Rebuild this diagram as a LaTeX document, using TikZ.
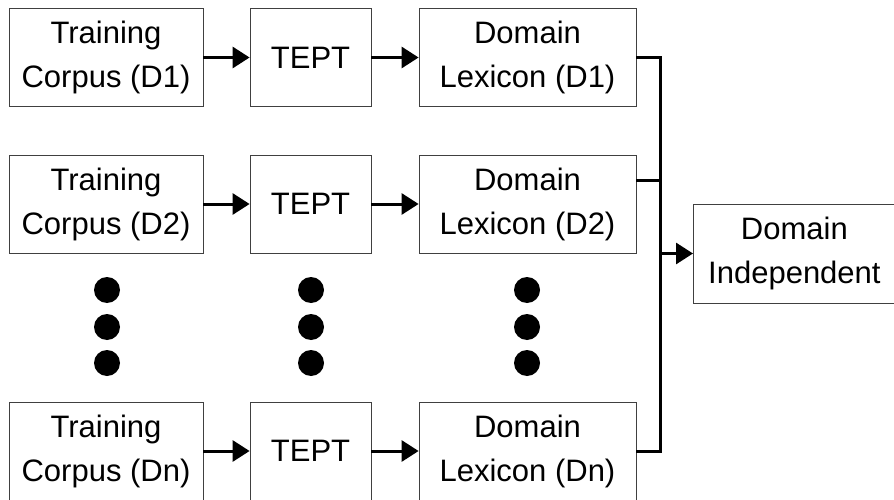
\documentclass[tikz,border=0pt]{standalone}
\usepackage{fontspec}
\setmainfont{Liberation Sans}
\usetikzlibrary{arrows.meta}
\begin{document}
\begin{tikzpicture}[x=1pt,y=-1pt,
  blk/.style={draw=black!75,line width=0.8pt,inner sep=0pt,align=center,
    font=\fontsize{31}{44}\selectfont},
  tc/.style={blk,minimum width=194pt,minimum height=98pt},
  tp/.style={blk,minimum width=121pt,minimum height=98pt},
  lx/.style={blk,minimum width=217pt,minimum height=98pt},
  conn/.style={line width=3pt,line join=miter},
  arr/.style={conn,-{Triangle[length=17pt,width=21pt]}},
  dotc/.style={circle,fill=black,inner sep=0pt,minimum width=25pt,minimum height=26pt}]
\clip (0,0) rectangle (894,500);
\useasboundingbox (0,0) rectangle (894,500);
% row 1
\node[tc] (tc1) at (106,57.5) {Training\\Corpus (D1)};
\node[tp] (tp1) at (310.5,57.5) {TEPT};
\node[lx] (lx1) at (527.5,57.5) {Domain\\Lexicon (D1)};
% row 2
\node[tc] (tc2) at (106,204) {Training\\Corpus (D2)};
\node[tp] (tp2) at (310.5,204) {TEPT};
\node[lx] (lx2) at (527.5,204) {Domain\\Lexicon (D2)};
% row n
\node[tc] (tcn) at (106,451) {Training\\Corpus (Dn)};
\node[tp] (tpn) at (310.5,451) {TEPT};
\node[lx] (lxn) at (527.5,451) {Domain\\Lexicon (Dn)};
% result
\node[blk,minimum width=220pt,minimum height=99pt,anchor=west] (ind) at (693,253.5) {\hspace*{-18pt}Domain\\\hspace*{-18pt}Independent};
% dots
\foreach \xx/\nm in {107/a,311/b,527/c}{
  \node[dotc] (d\nm1) at (\xx,290) {};
  \node[dotc] (d\nm2) at (\xx,327) {};
  \node[dotc] (d\nm3) at (\xx,363) {};
}
% arrows
\draw[arr] (tc1) -- (tp1);
\draw[arr] (tp1) -- (lx1);
\draw[arr] (tc2) -- (tp2);
\draw[arr] (tp2) -- (lx2);
\draw[arr] (tcn) -- (tpn);
\draw[arr] (tpn) -- (lxn);
% bus
\coordinate (j1) at (660,57.5);
\coordinate (j2) at (660,180);
\coordinate (jm) at (660,253.5);
\coordinate (jn) at (660,451);
\draw[conn] (lx1.east) -- (j1) -- (jn) -- (lxn.east);
\draw[conn] ([yshift=24pt]lx2.east) -- (j2);
\draw[arr] (jm) -- (ind.west);
\end{tikzpicture}
\end{document}
